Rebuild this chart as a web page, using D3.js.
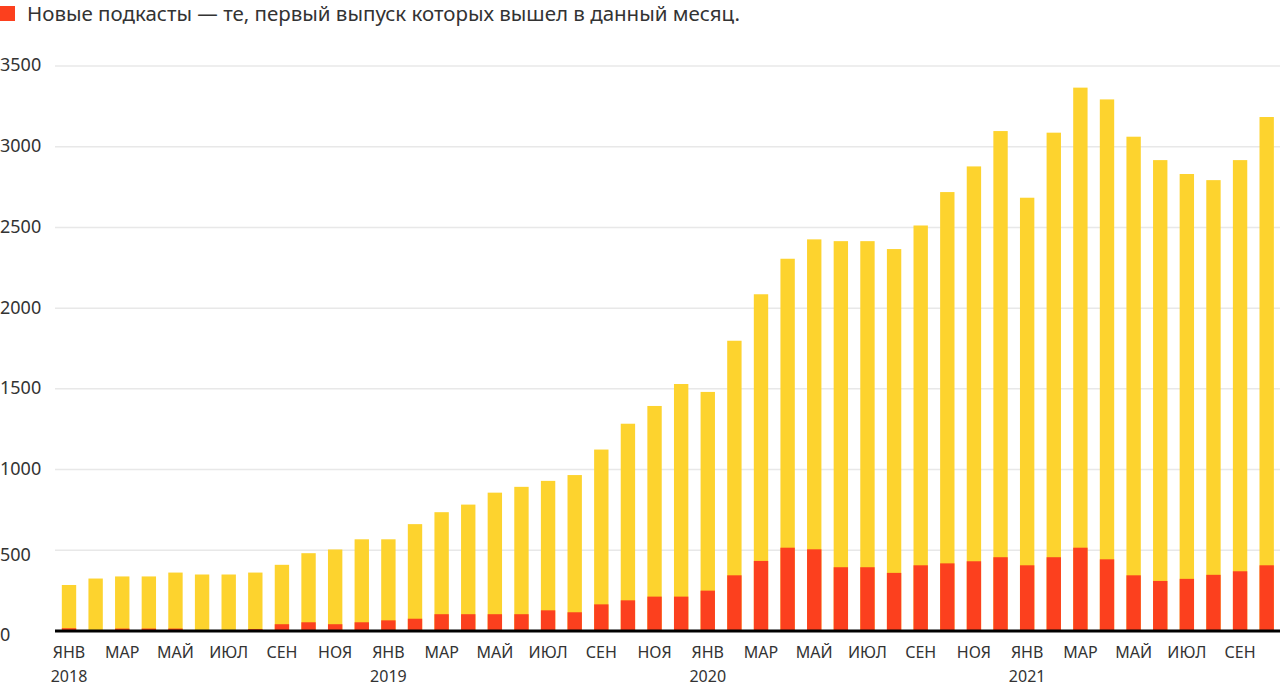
<!DOCTYPE html>
<html>
<head>
<meta charset="utf-8">
<script src="https://cdn.jsdelivr.net/npm/d3@7"></script>
<style>
  html, body { margin: 0; padding: 0; background: #fff; }
  svg { display: block; }
  text { font-family: "Noto Sans", "Open Sans", sans-serif; fill: #333; }
</style>
</head>
<body>
<svg id="chart" width="1280" height="686"></svg>
<script>
// months Jan 2018 .. Oct 2021
const monthNames = ['ЯНВ', 'ФЕВ', 'МАР', 'АПР', 'МАЙ', 'ИЮН', 'ИЮЛ', 'АВГ', 'СЕН', 'ОКТ', 'НОЯ', 'ДЕК'];
const years = [2018, 2019, 2020, 2021];

// all podcasts that published an episode in the month
const totals = [
    285, 325, 338, 338, 362, 350, 350, 362, 410, 482, 505, 568,
    568, 662, 736, 783, 857, 893, 930, 966, 1124, 1284, 1394, 1530,
    1481, 1798, 2086, 2306, 2426, 2415, 2415, 2366, 2512, 2719, 2878, 3097,
    2684, 3087, 3366, 3293, 3062, 2917, 2831, 2793, 2917, 3184
];
// new podcasts: first episode came out in the month
const newOnes = [
    17, 0, 15, 15, 15, 0, 0, 12, 42, 54, 42, 54,
    66, 76, 104, 104, 104, 104, 128, 116, 165, 190, 213, 213,
    250, 345, 434, 516, 506, 395, 395, 360, 407, 419, 432, 457,
    407, 457, 516, 444, 345, 310, 323, 348, 370, 407
];
const yTicks = [0, 500, 1000, 1500, 2000, 2500, 3000, 3500];
const legendText = 'Новые подкасты — те, первый выпуск которых вышел в данный месяц.';

const YELLOW = '#fdd32e';
const RED = '#fc401e';

const months = totals.map((t, i) => ({
    i: i,
    name: monthNames[i % 12],
    year: years[Math.floor(i / 12)],
    total: t,
    fresh: newOnes[i]
}));

const svg = d3.select('#chart');
const plotLeft = 55.7, plotRight = 1280, plotTop = 66, plotBottom = 631;

const x = d3.scaleBand()
    .domain(months.map(d => d.i))
    .range([plotLeft, plotRight])
    .paddingInner(0.46)
    .paddingOuter(0.23);

const y = d3.scaleLinear()
    .domain([0, 3500])
    .range([plotBottom, plotTop]);

// grid
svg.append('g')
    .selectAll('line')
    .data(yTicks.filter(t => t > 0))
    .join('line')
    .attr('x1', 55).attr('x2', plotRight)
    .attr('y1', d => y(d)).attr('y2', d => y(d))
    .attr('stroke', '#e8e8e8')
    .attr('stroke-width', 1.5);

svg.append('g')
    .selectAll('text')
    .data(yTicks)
    .join('text')
    .attr('x', 0)
    .attr('y', d => y(d) + (d < 1000 ? 5 : 0))
    .attr('dy', '0.3em')
    .attr('font-size', 18)
    .text(d => d);

// bars
svg.append('g')
    .selectAll('rect')
    .data(months)
    .join('rect')
    .attr('x', d => x(d.i))
    .attr('width', x.bandwidth())
    .attr('y', d => y(d.total))
    .attr('height', d => y(0) - y(d.total))
    .attr('fill', YELLOW);

svg.append('g')
    .selectAll('rect')
    .data(months)
    .join('rect')
    .attr('x', d => x(d.i))
    .attr('width', x.bandwidth())
    .attr('y', d => y(d.fresh))
    .attr('height', d => y(0) - y(d.fresh))
    .attr('fill', RED);

// baseline
svg.append('line')
    .attr('x1', 55).attr('x2', plotRight)
    .attr('y1', plotBottom).attr('y2', plotBottom)
    .attr('stroke', '#000')
    .attr('stroke-width', 3);

// month + year labels
const lab = svg.append('g');
lab.selectAll('.mon')
    .data(months.filter(d => d.i % 2 === 0))
    .join('text')
    .attr('class', 'mon')
    .attr('x', d => x(d.i) + x.bandwidth() / 2)
    .attr('y', 652)
    .attr('dy', '0.35em')
    .attr('text-anchor', 'middle')
    .attr('font-size', 16)
    .text(d => d.name);

lab.selectAll('.yr')
    .data(months.filter(d => d.i % 12 === 0))
    .join('text')
    .attr('class', 'yr')
    .attr('x', d => x(d.i) + x.bandwidth() / 2)
    .attr('y', 676)
    .attr('dy', '0.35em')
    .attr('text-anchor', 'middle')
    .attr('font-size', 16)
    .text(d => d.year);

// legend
const legend = svg.append('g');
legend.append('rect')
    .attr('x', 0).attr('y', 6)
    .attr('width', 15).attr('height', 15)
    .attr('fill', RED);
legend.append('text')
    .attr('x', 27).attr('y', 14)
    .attr('dy', '0.35em')
    .attr('font-size', 20.5)
    .attr('textLength', 713)
    .attr('lengthAdjust', 'spacing')
    .text(legendText);
</script>
</body>
</html>
